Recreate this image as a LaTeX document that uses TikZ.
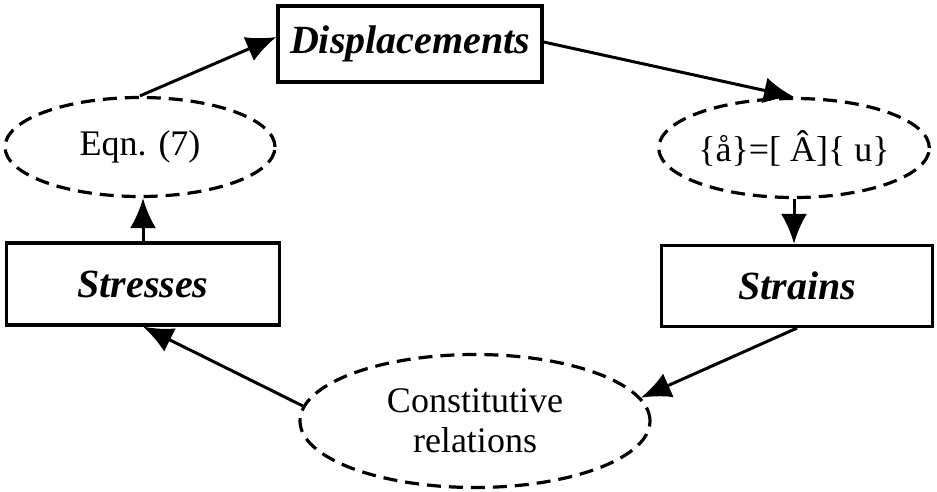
\documentclass[tikz,border=0pt]{standalone}
\usepackage{fontspec}
\setmainfont{Liberation Serif}
\usetikzlibrary{shapes.geometric,arrows.meta}

\begin{document}
\begin{tikzpicture}[x=1pt, y=-1pt, >={Latex[length=30pt,width=26pt]},
    box/.style={draw, line width=3.2pt, font=\fontsize{40}{44}\selectfont\bfseries\itshape},
    oval/.style={draw, ellipse, line width=3.2pt, dash pattern=on 14pt off 8pt, inner sep=0pt, font=\fontsize{36}{40}\selectfont, align=center},
    link/.style={->, line width=3pt}]
    \useasboundingbox (0,0) rectangle (937,492);

    % Kaesten
    \node[box, minimum width=264pt, minimum height=76pt] (disp) at (410,44) {Displacements};
    \node[box, minimum width=273pt, minimum height=82pt] (stress) at (143,284) {Stresses};
    \node[box, minimum width=271pt, minimum height=81pt] (strain) at (797,286) {Strains};

    % Ellipsen
    \node[oval, minimum width=270pt, minimum height=99pt] (eqn) at (140,147) {Eqn. (7)};
    \node[oval, minimum width=260pt, minimum height=99pt] (kin) at (794,148) {\{å\}=[ Â]\{ u\}};
    \node[oval, minimum width=350pt, minimum height=133pt] (const) at (475,421) {Constitutive\\relations};

    % Pfeile
    \draw[link] (eqn.north) -- ([yshift=7pt]disp.west);
    \draw[link] ([yshift=2pt]disp.east) -- (kin.north);
    \draw[link] (kin.south) -- (kin.south |- strain.north);
    \draw[link] (strain.south) -- (const.8);
    \draw[link] (const.175) -- (stress.south);
    \draw[link] (stress.north) -- (stress.north |- eqn.south);
\end{tikzpicture}
\end{document}
